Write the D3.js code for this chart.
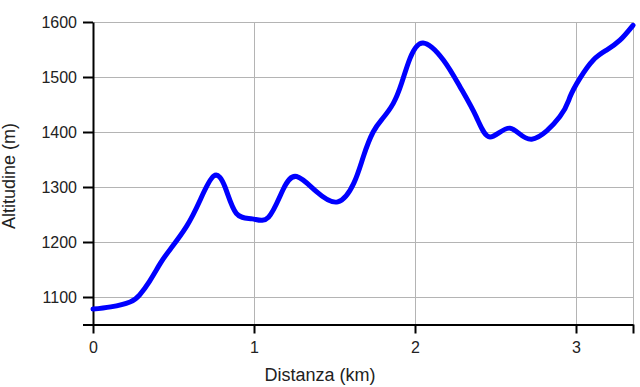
<!DOCTYPE html>
<html>
<head>
<meta charset="utf-8">
<script src="https://cdn.jsdelivr.net/npm/d3@7"></script>
<style>
  body { margin: 0; background: #fff; }
  text { font-family: "Liberation Sans", Arial, sans-serif; fill: #222; }
</style>
</head>
<body>
<svg id="chartSvg" width="640" height="387"></svg>
<script>
// profile
const distanceKm = [0, 0.11, 0.23, 0.29, 0.35, 0.42, 0.48, 0.58, 0.665, 0.75, 0.82, 0.89, 0.99, 1.09, 1.18,
  1.265, 1.39, 1.52, 1.62, 1.68, 1.74, 1.80, 1.865, 1.917, 1.969, 2.05, 2.176, 2.28, 2.38, 2.466,
  2.59, 2.725, 2.90, 2.963, 3.025, 3.108, 3.19, 3.273, 3.354];
const altitudeM = [1078, 1082, 1091, 1104, 1128, 1162, 1187, 1228, 1276, 1320, 1300, 1252, 1242, 1245, 1295,
  1319, 1291, 1273, 1307, 1356, 1400, 1425, 1452, 1489, 1534, 1562, 1531, 1482, 1428, 1391,
  1407, 1387, 1428, 1464, 1498, 1531, 1549, 1567, 1594];
const xTicks = [0, 1, 2, 3];
const yTicks = [1100, 1200, 1300, 1400, 1500, 1600];
const xMax = 3.354;
const yMin = 1050, yMax = 1600;

function drawProfile() {
  const svg = d3.select("#chartSvg");
  const margin = { top: 22, right: 7, bottom: 62, left: 93 };
  const width = 640, height = 387;

  const x = d3.scaleLinear()
    .domain([0, xMax])
    .range([margin.left, width - margin.right]);
  const y = d3.scaleLinear()
    .domain([yMin, yMax])
    .range([height - margin.bottom - 0.5, margin.top]);

  const data = distanceKm.map((d, i) => ({ km: d, alt: altitudeM[i] }));

  // grid
  svg.append("g")
    .attr("transform", `translate(0, ${y(yMin)})`)
    .call(d3.axisBottom(x).tickValues([1, 2, 3, xMax]).tickSize(-(y(yMin) - y(yMax))).tickFormat(""))
    .call(g => g.select(".domain").remove())
    .selectAll("line").attr("stroke", "#b4b4b4");
  svg.append("g")
    .attr("transform", `translate(${x(0)}, 0)`)
    .call(d3.axisLeft(y).tickValues(yTicks).tickSize(-(x(xMax) - x(0))).tickFormat(""))
    .call(g => g.select(".domain").remove())
    .selectAll("line").attr("stroke", "#b4b4b4");

  // x axis
  const xAxis = svg.append("g")
    .attr("transform", `translate(0, ${y(yMin)})`)
    .call(d3.axisBottom(x).tickValues(xTicks.concat([xMax])).tickSize(9).tickSizeOuter(0)
      .tickFormat(d => xTicks.includes(d) ? d3.format("d")(d) : ""));
  xAxis.select(".domain").attr("stroke", "#000").attr("stroke-width", 2);
  xAxis.selectAll("line").attr("stroke", "#000").attr("stroke-width", 2);
  xAxis.selectAll("text").attr("font-size", "16px").attr("dy", "1.05em").style("fill", "#222");

  // y axis
  const yAxis = svg.append("g")
    .attr("transform", `translate(${x(0)}, 0)`)
    .call(d3.axisLeft(y).tickValues([yMin].concat(yTicks)).tickSize(10).tickSizeOuter(0).tickPadding(6)
      .tickFormat(d => yTicks.includes(d) ? d : ""));
  yAxis.select(".domain").attr("stroke", "#000").attr("stroke-width", 2);
  yAxis.selectAll("line").attr("stroke", "#000").attr("stroke-width", 2);
  yAxis.selectAll("text").attr("font-size", "16px").style("fill", "#222");

  // elevation line
  const line = d3.line()
    .x(d => x(d.km))
    .y(d => y(d.alt))
    .curve(d3.curveNatural);
  svg.append("path")
    .datum(data)
    .attr("d", line)
    .attr("fill", "none")
    .attr("stroke", "#0000ff")
    .attr("stroke-width", 5)
    .attr("stroke-linecap", "round")
    .attr("stroke-linejoin", "round");

  // titles
  svg.append("text")
    .attr("x", 320)
    .attr("y", 381)
    .attr("text-anchor", "middle")
    .attr("font-size", "18px")
    .text("Distanza (km)");
  svg.append("text")
    .attr("transform", "rotate(-90)")
    .attr("x", -176)
    .attr("y", 15)
    .attr("text-anchor", "middle")
    .attr("font-size", "18px")
    .text("Altitudine (m)");
}

drawProfile();
</script>
</body>
</html>
